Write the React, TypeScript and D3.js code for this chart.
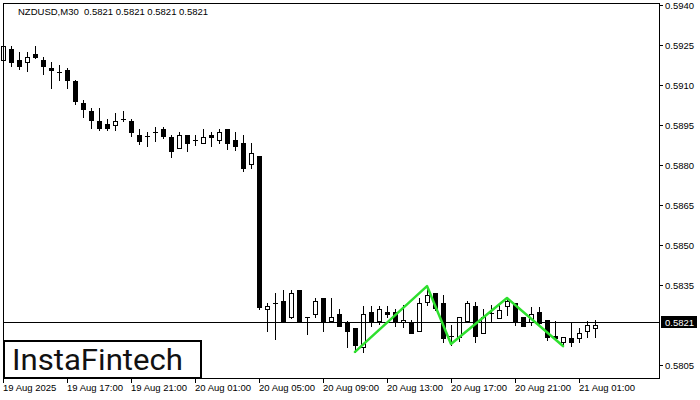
import { useRef, useEffect } from 'react';
import * as d3 from 'd3';

const WIDTH = 700;
const HEIGHT = 400;

// NZDUSD M30 bars, first bar 19 Aug 2025 13:00
const opens = [
  0.59194, 0.59235, 0.59194, 0.59186, 0.59216, 0.59194, 0.59164, 0.59149, 0.59156, 0.59115,
  0.59033, 0.59003, 0.58965, 0.58954, 0.5895, 0.58973, 0.58965, 0.58913, 0.58909, 0.58924,
  0.58935, 0.58905, 0.58864, 0.58913, 0.58894, 0.58883, 0.58913, 0.58894, 0.58935, 0.58894,
  0.58883, 0.58804, 0.58834, 0.5826, 0.58283, 0.5829, 0.5823, 0.58331, 0.5823, 0.58241,
  0.58301, 0.58215, 0.58241, 0.58211, 0.58189, 0.58118, 0.58249, 0.58215, 0.58249, 0.58249,
  0.58211, 0.58211, 0.58178, 0.58286, 0.5832, 0.58283, 0.58159, 0.58155, 0.58215, 0.58271,
  0.5817, 0.58245, 0.58228, 0.58271, 0.58283, 0.5823, 0.58211, 0.58249, 0.58219, 0.58159,
  0.58136, 0.58151, 0.58151, 0.58178, 0.58189,
];
const highs = [
  0.59258, 0.59246, 0.59224, 0.59224, 0.59246, 0.59205, 0.59186, 0.59175, 0.59164, 0.59119,
  0.59044, 0.59014, 0.59014, 0.58973, 0.58995, 0.59003, 0.58973, 0.58935, 0.58924, 0.58943,
  0.58943, 0.58913, 0.58924, 0.58913, 0.58913, 0.58935, 0.58924, 0.58935, 0.58935, 0.58924,
  0.58913, 0.58883, 0.58834, 0.58283, 0.5832, 0.58331, 0.58331, 0.58331, 0.5823, 0.58301,
  0.58301, 0.58301, 0.5826, 0.58215, 0.58189, 0.58271, 0.58271, 0.58271, 0.58271, 0.5826,
  0.58275, 0.58219, 0.58301, 0.58343, 0.5832, 0.58313, 0.582, 0.5823, 0.5829, 0.58286,
  0.5826, 0.58275, 0.58275, 0.58301, 0.58283, 0.5823, 0.58268, 0.58268, 0.58219, 0.58215,
  0.58155, 0.58208, 0.58189, 0.58215, 0.58219,
];
const lows = [
  0.5919, 0.59171, 0.5916, 0.59153, 0.59201, 0.59141, 0.59089, 0.59119, 0.59089, 0.59029,
  0.5898, 0.58939, 0.58931, 0.58931, 0.58931, 0.58965, 0.58909, 0.58879, 0.58871, 0.5889,
  0.58901, 0.5883, 0.58862, 0.58853, 0.58875, 0.58881, 0.58871, 0.58883, 0.5886, 0.58856,
  0.58778, 0.58789, 0.5826, 0.58178, 0.58148, 0.58215, 0.58228, 0.58215, 0.58166, 0.5823,
  0.58178, 0.58215, 0.58196, 0.58118, 0.58099, 0.58099, 0.58196, 0.58204, 0.5823, 0.58196,
  0.58193, 0.5817, 0.58178, 0.58275, 0.58256, 0.58136, 0.58125, 0.5814, 0.58215, 0.58136,
  0.5817, 0.58211, 0.58226, 0.58238, 0.582, 0.58196, 0.582, 0.582, 0.58144, 0.58149,
  0.58121, 0.58121, 0.58136, 0.58155, 0.58155,
];
const closes = [
  0.59246, 0.59186, 0.59171, 0.59205, 0.59205, 0.59171, 0.59156, 0.59146, 0.59119, 0.5904,
  0.5901, 0.58969, 0.58939, 0.58939, 0.58965, 0.58971, 0.58924, 0.5889, 0.58907, 0.58922,
  0.58909, 0.58853, 0.58913, 0.58883, 0.58892, 0.58905, 0.58905, 0.58924, 0.58883, 0.58871,
  0.58789, 0.58845, 0.58268, 0.58271, 0.58281, 0.58215, 0.5832, 0.58215, 0.58228, 0.5829,
  0.58211, 0.5823, 0.58196, 0.58178, 0.58125, 0.58241, 0.58211, 0.5826, 0.58241, 0.58215,
  0.58219, 0.5817, 0.58283, 0.58313, 0.58264, 0.58151, 0.58155, 0.5823, 0.58283, 0.58159,
  0.5823, 0.58243, 0.58258, 0.5829, 0.58215, 0.58196, 0.58241, 0.58208, 0.58155, 0.58151,
  0.58155, 0.58136, 0.5817, 0.582, 0.582,
];

const priceTicks = [0.594, 0.5925, 0.591, 0.5895, 0.588, 0.5865, 0.585, 0.5835, 0.5805];
const timeTickBars = [0, 8, 16, 24, 32, 40, 48, 56, 64, 72];
const timeLabels = [
  '19 Aug 2025', '19 Aug 17:00', '19 Aug 21:00', '20 Aug 01:00', '20 Aug 05:00',
  '20 Aug 09:00', '20 Aug 13:00', '20 Aug 17:00', '20 Aug 21:00', '21 Aug 01:00',
];

// green pattern outline (bar index, price)
const patternBars = [44, 53, 56, 63, 70];
const patternPrices = [0.58099, 0.58346, 0.58129, 0.58301, 0.58121];

const lastPrice = 0.5821;
const title = 'NZDUSD,M30  0.5821 0.5821 0.5821 0.5821';

export default function App() {
  const svgRef = useRef<SVGSVGElement>(null);

  useEffect(() => {
    if (!svgRef.current) return;
    document.body.style.margin = '0';

    const svg = d3.select(svgRef.current);
    svg.selectAll('*').remove();

    const font = 'Tahoma, "Liberation Sans", Arial, sans-serif';
    const x = d3.scaleLinear().domain([0, closes.length - 1]).range([3, 595]);
    const y = d3.scaleLinear().domain([0.5805, 0.594]).range([365, 5]);

    svg.append('rect').attr('width', WIDTH).attr('height', HEIGHT).attr('fill', '#fff');

    const bars = closes.map((c, i) => ({ i, o: opens[i], h: highs[i], l: lows[i], c }));
    const g = svg.append('g').attr('shape-rendering', 'crispEdges');

    // wicks
    g.selectAll('line.wick')
      .data(bars)
      .join('line')
      .attr('x1', (d) => x(d.i) + 0.5)
      .attr('x2', (d) => x(d.i) + 0.5)
      .attr('y1', (d) => Math.round(y(d.h)))
      .attr('y2', (d) => Math.round(y(d.l)) + 1)
      .attr('stroke', '#000');

    // bodies
    bars.forEach((d) => {
      const cx = x(d.i);
      const top = Math.round(y(Math.max(d.o, d.c)));
      const bot = Math.round(y(Math.min(d.o, d.c)));
      if (bot - top < 1.5) {
        g.append('line')
          .attr('x1', cx - 2)
          .attr('x2', cx + 3)
          .attr('y1', top + 0.5)
          .attr('y2', top + 0.5)
          .attr('stroke', '#000');
      } else if (d.c > d.o) {
        g.append('rect')
          .attr('x', cx - 1.5)
          .attr('y', top + 0.5)
          .attr('width', 4)
          .attr('height', bot - top)
          .attr('fill', '#fff')
          .attr('stroke', '#000');
      } else {
        g.append('rect')
          .attr('x', cx - 2)
          .attr('y', top)
          .attr('width', 5)
          .attr('height', bot - top + 1)
          .attr('fill', '#000');
      }
    });

    // last price line
    const ly = Math.round(y(lastPrice)) + 0.5;
    g.append('line').attr('x1', 3).attr('x2', 659).attr('y1', ly).attr('y2', ly).attr('stroke', '#000');

    // pattern
    const line = d3.line<number>()
      .x((_, i) => x(patternBars[i]))
      .y((p) => y(p));
    svg.append('path')
      .attr('d', line(patternPrices) as string)
      .attr('fill', 'none')
      .attr('stroke', '#2ee02e')
      .attr('stroke-width', 2.5)
      .attr('stroke-linejoin', 'round')
      .attr('stroke-linecap', 'round');

    // frame
    g.append('rect')
      .attr('x', 3.5)
      .attr('y', 3.5)
      .attr('width', 656)
      .attr('height', 375)
      .attr('fill', 'none')
      .attr('stroke', '#000');

    // price axis
    priceTicks.forEach((p) => {
      const py = Math.round(y(p)) + 0.5;
      g.append('line').attr('x1', 660).attr('x2', 663).attr('y1', py).attr('y2', py).attr('stroke', '#000');
      svg.append('text')
        .attr('x', 665)
        .attr('y', py + 3.5)
        .attr('font-family', font)
        .attr('font-size', '9.5px')
        .attr('fill', '#000')
        .text(p.toFixed(4));
    });

    // last price tag
    g.append('rect').attr('x', 661).attr('y', 316).attr('width', 36).attr('height', 12).attr('fill', '#000');
    svg.append('text')
      .attr('x', 665)
      .attr('y', 326)
      .attr('font-family', font)
      .attr('font-size', '9.5px')
      .attr('fill', '#fff')
      .text(lastPrice.toFixed(4));

    // time axis
    timeTickBars.forEach((b, i) => {
      const tx = x(b) + 0.5;
      g.append('line').attr('x1', tx).attr('x2', tx).attr('y1', 379).attr('y2', 383).attr('stroke', '#000');
      svg.append('text')
        .attr('x', x(b))
        .attr('y', 391)
        .attr('font-family', font)
        .attr('font-size', '9.5px')
        .attr('fill', '#000')
        .text(timeLabels[i]);
    });

    // title
    svg.append('text')
      .attr('x', 18)
      .attr('y', 15)
      .attr('xml:space', 'preserve')
      .style('white-space', 'pre')
      .attr('font-family', font)
      .attr('font-size', '9.5px')
      .attr('fill', '#000')
      .text(title);

    // logo
    svg.append('rect')
      .attr('x', 4)
      .attr('y', 341)
      .attr('width', 197)
      .attr('height', 37)
      .attr('fill', '#fff')
      .attr('stroke', '#000')
      .attr('stroke-width', 2);
    svg.append('text')
      .attr('x', 12)
      .attr('y', 370)
      .attr('font-family', 'Roboto, "Noto Sans", Arial, sans-serif')
      .attr('font-size', '29px')
      .attr('textLength', 171)
      .attr('lengthAdjust', 'spacingAndGlyphs')
      .attr('fill', '#111')
      .text('InstaFintech');
  }, []);

  return <svg ref={svgRef} width={WIDTH} height={HEIGHT} style={{ display: 'block' }} />;
}
